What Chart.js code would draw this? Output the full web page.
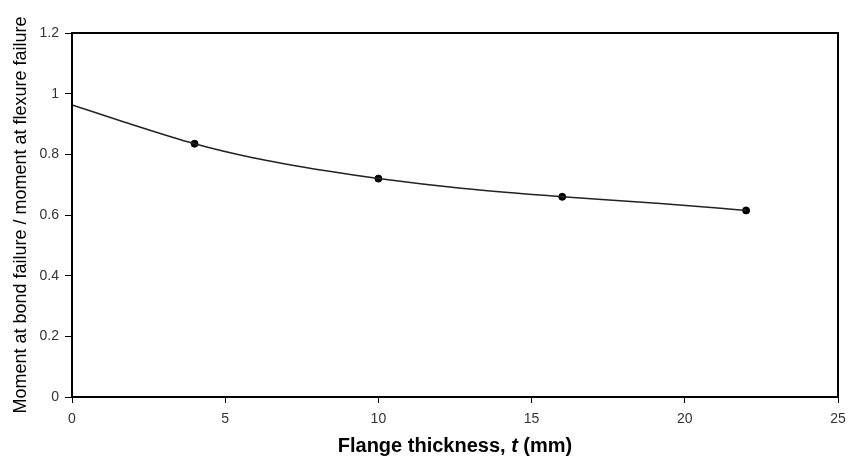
<!DOCTYPE html>
<html lang="en">
  <head>
    <meta charset="UTF-8" />
    <script src="https://cdn.jsdelivr.net/npm/chart.js"></script>
    <style>
      body { margin: 0; background: #fff; }
      .graph { width: 850px; height: 458px; }
    </style>
  </head>
  <body>
    <div class="graph">
      <canvas id="myChartCanvas" width="850" height="458"></canvas>
    </div>
    <script>
      // trend line (starts at t = 0)
      const lineT = [0, 1.6, 4, 5.9, 8.4, 10, 12.7, 16, 19.2, 22];
      const lineRatio = [0.963, 0.91, 0.835, 0.789, 0.744, 0.72, 0.688, 0.66, 0.638, 0.615];

      // measured points
      const pointT = [4, 10, 16, 22];
      const pointRatio = [0.835, 0.72, 0.66, 0.615];

      const xTicks = ["0", "5", "10", "15", "20", "25"];
      const yTicks = ["0", "0.2", "0.4", "0.6", "0.8", "1", "1.2"];

      // x title pieces: the t is italic
      const xTitle = ["Flange thickness, ", "t", " (mm)"];

      // box round the plot area + x title with italic t
      const frame = {
        id: "frame",
        afterDraw(chart) {
          const a = chart.chartArea;
          const ctx = chart.ctx;
          ctx.save();
          ctx.strokeStyle = "#000";
          ctx.lineWidth = 2;
          ctx.strokeRect(a.left, a.top, a.right - a.left, a.bottom - a.top);

          const fonts = [
            "bold 20px 'Liberation Sans', Arial",
            "italic bold 20px 'Liberation Sans', Arial",
            "bold 20px 'Liberation Sans', Arial"
          ];
          let total = 0;
          const widths = xTitle.map((s, i) => {
            ctx.font = fonts[i];
            const w = ctx.measureText(s).width;
            total += w;
            return w;
          });
          let x = (a.left + a.right) / 2 - total / 2;
          ctx.fillStyle = "#000";
          ctx.textBaseline = "middle";
          ctx.textAlign = "left";
          xTitle.forEach((s, i) => {
            ctx.font = fonts[i];
            ctx.fillText(s, x, 446);
            x += widths[i];
          });
          ctx.restore();
        }
      };

      const config = {
        type: "scatter",
        data: {
          datasets: [
            {
              type: "line",
              data: lineT.map((t, i) => ({ x: t, y: lineRatio[i] })),
              borderColor: "#222",
              borderWidth: 1.5,
              pointRadius: 0,
              cubicInterpolationMode: "monotone",
              fill: false
            },
            {
              data: pointT.map((t, i) => ({ x: t, y: pointRatio[i] })),
              backgroundColor: "#000",
              borderColor: "#000",
              pointRadius: 3.5
            }
          ]
        },
        options: {
          responsive: false,
          animation: false,
          layout: { padding: { left: 0, top: 33, right: 0, bottom: 0 } },
          plugins: { legend: { display: false }, tooltip: { enabled: false } },
          scales: {
            x: {
              type: "linear",
              min: 0,
              max: 25,
              afterFit(scale) {
                scale.height = 61;
                scale.paddingRight = 12;
              },
              ticks: {
                stepSize: 5,
                color: "#333",
                padding: 8,
                font: { family: "Liberation Sans, Arial", size: 14 },
                callback: (v) => xTicks[v / 5]
              },
              grid: { drawOnChartArea: false, color: "#000", tickLength: 6 },
              border: { color: "#000", width: 2 }
            },
            y: {
              min: 0,
              max: 1.2,
              afterFit(scale) { scale.width = 72; },
              ticks: {
                stepSize: 0.2,
                color: "#333",
                padding: 6,
                font: { family: "Liberation Sans, Arial", size: 14 },
                callback: (v) => yTicks[Math.round(v / 0.2)]
              },
              grid: { drawOnChartArea: false, color: "#000", tickLength: 7 },
              border: { color: "#000", width: 2 },
              title: {
                display: true,
                text: "Moment at bond failure / moment at flexure failure",
                color: "#000",
                padding: { top: 10, bottom: 0 },
                font: { family: "Liberation Sans, Arial", size: 18 }
              }
            }
          }
        },
        plugins: [frame]
      };

      new Chart(document.getElementById("myChartCanvas"), config);
    </script>
  </body>
</html>
